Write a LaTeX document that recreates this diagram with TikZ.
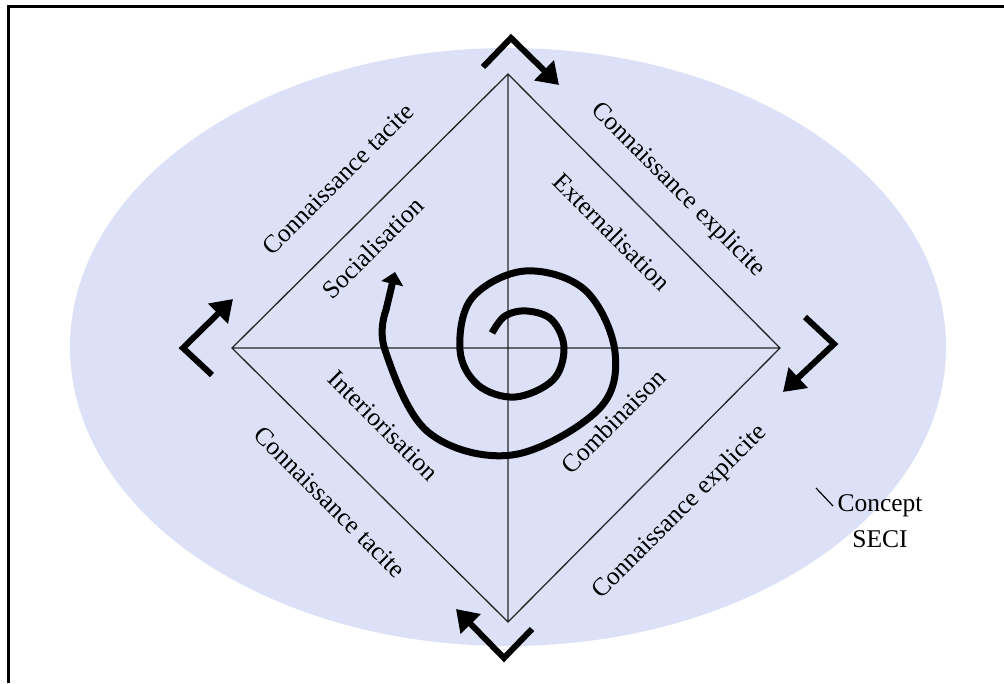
\documentclass[tikz,border=0pt]{standalone}
\usepackage{fontspec}
\setmainfont{Liberation Serif}
\usetikzlibrary{arrows.meta}

\definecolor{seciBack}{RGB}{221,225,247}

\tikzset{
  bentArrow/.style={line width=6pt, -{Triangle[length=21pt,width=27pt]}},
  seciLabel/.style={font=\fontsize{25.5}{36}\selectfont, inner sep=0pt},
  seciLine/.style={line width=1.3pt, draw=black!85},
}

\def\tilt{45}

\begin{document}
\begin{tikzpicture}[x=1pt,y=-1pt]
      \useasboundingbox (0,0) rectangle (1004,683);

      \fill[seciBack] (508,347) ellipse [x radius=438, y radius=299];

      \draw[line width=3pt]
        (8,683) -- (8,6) -- (1004,6)
      ;

      \coordinate (haut) at (508,74);
      \coordinate (gauche) at (232,348);
      \coordinate (droite) at (780,348);
      \coordinate (bas) at (508,622);

      \draw[seciLine]
        (haut) -- (droite) -- (bas) -- (gauche) -- cycle
        (gauche) -- (droite)
        (haut) -- (bas)
      ;

      \draw[bentArrow]
        (483,67) -- (511,38) -- (559,85)
      ;
      \draw[bentArrow]
        (212,375) -- (183,348) -- (233,299)
      ;
      \draw[bentArrow]
        (805,317) -- (834,344) -- (783,392)
      ;
      \draw[bentArrow]
        (532,629) -- (504,658) -- (456,609)
      ;

      \draw[line width=7pt, -{Triangle[length=12pt,width=22pt]}]
        plot [smooth, tension=0.6]
        coordinates {
          (492,333) (505,316) (527,311) (552,320)
          (564,348) (553,380) (515,397) (478,385)
          (460,350) (472,298) (525,271) (585,290)
          (615,352) (598,410) (512,455) (428,432)
          (385,350) (386,310)
        }
        -- (395,272)
      ;

      \node[seciLabel, rotate=\tilt] (tacite1) at (338,179) {Connaissance tacite};
      \node[seciLabel, rotate=-\tilt] (explicite1) at (678,190) {Connaissance explicite};
      \node[seciLabel, rotate=-\tilt] (tacite2) at (330,502) {Connaissance tacite};
      \node[seciLabel, rotate=\tilt] (explicite2) at (680,512) {Connaissance explicite};

      \node[seciLabel, rotate=\tilt] (socia) at (373,248) {Socialisation};
      \node[seciLabel, rotate=-\tilt] (extern) at (612,232) {Externalisation};
      \node[seciLabel, rotate=-\tilt] (interio) at (383,426) {Interiorisation};
      \node[seciLabel, rotate=\tilt] (combi) at (613,421) {Combinaison};

      \node[seciLabel, align=center] (seci) at (880,521) {Concept\\SECI};
      \draw[line width=1.2pt]
        (816,488) -- (833,506)
      ;
\end{tikzpicture}
\end{document}
